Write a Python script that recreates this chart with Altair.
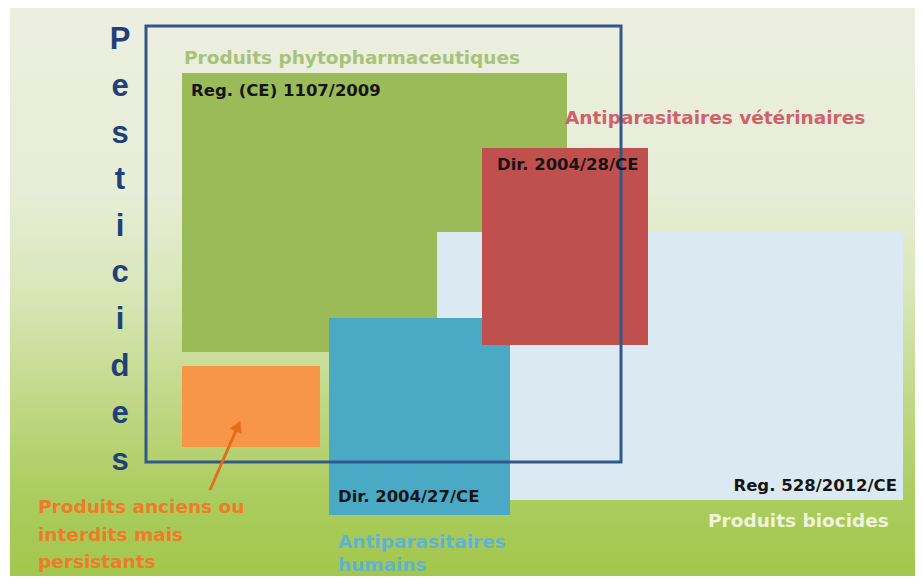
import altair as alt
import pandas as pd

# --- data (pixel-space coordinates of the diagram) ---
zone_names = ["Produits phytopharmaceutiques", "Produits biocides",
              "Antiparasitaires humains", "Antiparasitaires vétérinaires",
              "Produits anciens ou interdits"]
zone_x0 = [182, 437, 329, 482, 182]
zone_x1 = [567, 903, 510, 648, 320]
zone_y0 = [73, 232, 318, 148, 366]
zone_y1 = [352, 500, 515, 345, 447]
zone_colors = ["#9bbb59", "#dbeaf2", "#4aaac6", "#c0504d", "#f79646"]

frame_x0, frame_x1, frame_y0, frame_y1 = [146], [621], [26], [462]

reg_labels = ["Reg. (CE) 1107/2009", "Dir. 2004/28/CE", "Dir. 2004/27/CE"]
reg_x = [191, 497, 338]
reg_y = [91, 165, 497]

cat_labels = ["Produits phytopharmaceutiques", "Antiparasitaires vétérinaires",
              "Produits biocides", "Antiparasitaires", "humains",
              "Produits anciens ou", "interdits mais", "persistants"]
cat_x = [184, 565, 708, 338, 338, 38, 38, 38]
cat_y = [58, 118, 521, 542, 565, 507, 535, 562]
cat_colors = ["#a9c27a", "#d0616a", "#eef3dc", "#5fb3d2", "#5fb3d2",
              "#ef7b2a", "#ef7b2a", "#ef7b2a"]

title_letters = list("Pesticides")
title_y = [40, 87, 134, 180, 227, 273, 320, 367, 414, 461]

arrow_x = [210, 238]
arrow_y = [490, 426]

W, H = 907, 568
xs = alt.Scale(domain=[8, 8 + W])
ys = alt.Scale(domain=[8, 8 + H], reverse=True)

bg = alt.Chart(pd.DataFrame({"x": [10], "x2": [8 + W], "y": [7], "y2": [8 + H]})).mark_rect(
    fill=alt.LinearGradient(
        gradient="linear", x1=0, x2=0, y1=0, y2=1,
        stops=[alt.GradientStop(color="#ecefe0", offset=0),
               alt.GradientStop(color="#e7edd6", offset=0.33),
               alt.GradientStop(color="#d8e6b6", offset=0.51),
               alt.GradientStop(color="#c2d98a", offset=0.68),
               alt.GradientStop(color="#accd60", offset=0.85),
               alt.GradientStop(color="#a2c74c", offset=1)])
).encode(
    x=alt.X("x:Q", scale=xs, axis=None), x2="x2:Q",
    y=alt.Y("y:Q", scale=ys, axis=None), y2="y2:Q")

zones = pd.DataFrame({"name": zone_names, "x0": zone_x0, "x1": zone_x1,
                      "y0": zone_y0, "y1": zone_y1})
rects = alt.Chart(zones).mark_rect().encode(
    x=alt.X("x0:Q", scale=xs, axis=None), x2="x1:Q",
    y=alt.Y("y0:Q", scale=ys, axis=None), y2="y1:Q",
    color=alt.Color("name:N", scale=alt.Scale(domain=zone_names, range=zone_colors), legend=None),
)

frame = alt.Chart(pd.DataFrame({"x0": frame_x0, "x1": frame_x1, "y0": frame_y0, "y1": frame_y1})).mark_rect(
    filled=False, stroke="#33568b", strokeWidth=3).encode(
    x=alt.X("x0:Q", scale=xs, axis=None), x2="x1:Q",
    y=alt.Y("y0:Q", scale=ys, axis=None), y2="y1:Q")

arrow_df = pd.DataFrame({"x": arrow_x, "y": arrow_y, "i": [0, 1]})
arrow_line = alt.Chart(arrow_df).mark_line(color="#e46c1c", strokeWidth=3).encode(
    x=alt.X("x:Q", scale=xs, axis=None), y=alt.Y("y:Q", scale=ys, axis=None), order="i:Q")
arrow_head = alt.Chart(arrow_df.iloc[[1]]).mark_point(
    shape="triangle-up", filled=True, color="#e46c1c", size=170, angle=24, opacity=1).encode(
    x=alt.X("x:Q", scale=xs, axis=None), y=alt.Y("y:Q", scale=ys, axis=None))

FONT = "DejaVu Sans"

reg_text = alt.Chart(pd.DataFrame({"t": reg_labels, "x": reg_x, "y": reg_y})).mark_text(
    align="left", baseline="middle", font=FONT, fontWeight="bold", fontSize=16.5, color="#151515").encode(
    x=alt.X("x:Q", scale=xs, axis=None), y=alt.Y("y:Q", scale=ys, axis=None), text="t:N")

reg_right = alt.Chart(pd.DataFrame({"t": ["Reg. 528/2012/CE"], "x": [897], "y": [486]})).mark_text(
    align="right", baseline="middle", font=FONT, fontWeight="bold", fontSize=16.5, color="#151515").encode(
    x=alt.X("x:Q", scale=xs, axis=None), y=alt.Y("y:Q", scale=ys, axis=None), text="t:N")

cat_text = alt.Chart(pd.DataFrame({"t": cat_labels, "x": cat_x, "y": cat_y, "c": cat_colors})).mark_text(
    align="left", baseline="middle", font=FONT, fontWeight="bold", fontSize=18.5).encode(
    x=alt.X("x:Q", scale=xs, axis=None), y=alt.Y("y:Q", scale=ys, axis=None), text="t:N",
    color=alt.Color("c:N", scale=None))

title_text = alt.Chart(pd.DataFrame({"t": title_letters, "x": [120] * 10, "y": title_y})).mark_text(
    align="center", baseline="middle", font="Liberation Sans", fontWeight="bold", fontSize=31,
    color="#213f78").encode(
    x=alt.X("x:Q", scale=xs, axis=None), y=alt.Y("y:Q", scale=ys, axis=None), text="t:N")

chart = alt.layer(bg, rects, cat_text, frame, reg_text, reg_right, arrow_line, arrow_head, title_text).properties(
    width=W, height=H, padding=0, autosize=alt.AutoSizeParams(type="none")
).configure_view(strokeWidth=0)

chart.save("out.html", embed_options={"renderer": "svg", "actions": False})
